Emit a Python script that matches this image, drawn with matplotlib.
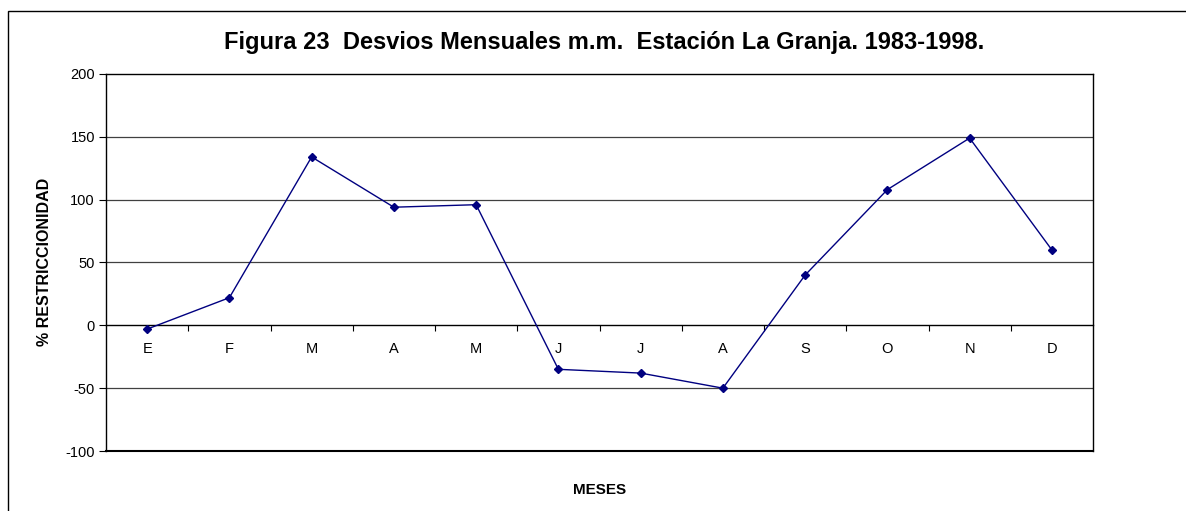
import matplotlib
matplotlib.use("Agg")
import matplotlib.pyplot as plt
from matplotlib.patches import Rectangle

months = ["E", "F", "M", "A", "M", "J", "J", "A", "S", "O", "N", "D"]
desvios = [-3, 22, 134, 94, 96, -35, -38, -50, 40, 108, 149, 60]
yticks = [-100, -50, 0, 50, 100, 150, 200]

plt.rcParams['font.family'] = ['Liberation Sans', 'DejaVu Sans']

W, H = 1186, 511
fig = plt.figure(figsize=(W / 100, H / 100), dpi=100)

# outer chart frame (extends beyond right/bottom edges)
fig.patches.append(Rectangle((8 / W, -0.05), 1.1, 1 - 11 / H + 0.05,
                             transform=fig.transFigure, fill=False,
                             edgecolor='black', linewidth=1.0))

left, right, top, bottom = 106, 1093, 74, 451
ax = fig.add_axes([left / W, 1 - bottom / H, (right - left) / W, (bottom - top) / H])

x = list(range(len(months)))
ax.plot(x, desvios, color='#000080', linewidth=1.0, marker='D', markersize=4,
        markerfacecolor='#000080', markeredgecolor='#000080', zorder=3)

ax.set_xlim(-0.5, len(months) - 0.5)
ax.set_ylim(-100, 200)
ax.set_yticks(yticks)
ax.set_yticklabels([str(v) for v in yticks], fontsize=10.5)
for v in yticks:
    if v not in (-100, 0, 200):
        ax.axhline(v, color='#404040', linewidth=0.9, zorder=1)

# x axis crossing at zero
ax.spines['bottom'].set_position(('data', 0))
ax.spines['bottom'].set_linewidth(1.0)
for s in ('top', 'right', 'left'):
    ax.spines[s].set_linewidth(1.0)
# bottom border line at -100
ax.axhline(-100, color='black', linewidth=1.5, clip_on=False, zorder=2)

ax.set_xticks([i + 0.5 for i in range(len(months) - 1)])
ax.set_xticklabels([])
ax.tick_params(axis='x', direction='out', length=4, width=0.8)
ax.tick_params(axis='y', direction='out', length=5, width=0.8, pad=3)
for i, m in enumerate(months):
    ax.text(i, -19, m, ha='center', va='center', fontsize=10.5)

fig.text(604 / W, 1 - 42 / H,
         "Figura 23  Desvios Mensuales m.m.  Estación La Granja. 1983-1998.",
         ha='center', va='center', fontsize=17, fontweight='bold')
fig.text(45 / W, 1 - 262 / H, "% RESTRICCIONIDAD", rotation=90,
         ha='center', va='center', fontsize=11.5, fontweight='bold')
fig.text(600 / W, 1 - 490 / H, "MESES", ha='center', va='center',
         fontsize=11, fontweight='bold')

fig.savefig("out.png", dpi=100)
